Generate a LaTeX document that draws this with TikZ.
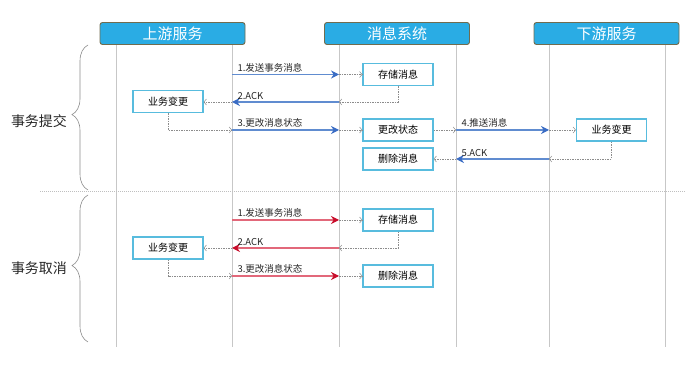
\documentclass[tikz,border=0pt]{standalone}
\usepackage{fontspec}
\setmainfont{Noto Sans CJK SC}
\usetikzlibrary{arrows.meta,decorations.pathreplacing}
\definecolor{headblue}{RGB}{42,172,228}
\definecolor{headedge}{RGB}{112,108,78}
\definecolor{boxblue}{RGB}{88,188,222}
\definecolor{msgblue}{RGB}{96,140,208}
\definecolor{tipblue}{RGB}{58,108,196}
\definecolor{msgred}{RGB}{226,104,122}
\definecolor{tipred}{RGB}{200,12,42}
\tikzset{
  head/.style={draw=headedge,fill=headblue,line width=0.9pt,rounded corners=2.5pt,minimum width=145pt,minimum height=22pt,text=white,font=\fontsize{15}{15}\selectfont},
  act/.style={draw=boxblue,fill=white,line width=1.2pt,minimum width=70pt,minimum height=22pt,inner sep=0pt,font=\fontsize{10}{10}\selectfont},
  life/.style={draw=black!22,line width=0.6pt},
  gdash/.style={draw=black!45,line width=0.5pt,dash pattern=on 1.5pt off 1pt,-{Straight Barb[length=2.5pt,width=6pt]}},
  bmsg/.style={draw=msgblue,line width=1.1pt,-{Stealth[length=8pt,width=8pt,color=tipblue]}},
  rmsg/.style={draw=msgred,line width=1.1pt,-{Stealth[length=8pt,width=8pt,color=tipred]}},
  lab/.style={anchor=south west,inner sep=1pt,xshift=4pt,yshift=1pt,font=\fontsize{9.5}{9.5}\selectfont,text=black!85},
  side/.style={font=\fontsize{14}{14}\selectfont,text=black!85},
  brc/.style={draw=black!45,line width=0.6pt,decorate,decoration={brace,amplitude=16pt,aspect=0.52}},
}
\begin{document}
\begin{tikzpicture}[x=1pt,y=-1pt]
  \useasboundingbox (0,0) rectangle (697,371);
  % lifelines
  \foreach \x in {116,232,339,456,549,665}
    \draw[life] (\x,45) -- (\x,347);
  \draw[draw=black!25,line width=0.5pt,dash pattern=on 1pt off 1pt] (40,191) -- (685,191);
  % headers
  \node[head] (up) at (172.5,33.5) {上游服务};
  \node[head] (mq) at (397,33.5) {消息系统};
  \node[head] (down) at (606.5,33.5) {下游服务};
  % braces
  \draw[brc] (88,190) -- (88,45);
  \draw[brc] (88,342) -- (88,195);
  \node[side] (commit) at (39,121) {事务提交};
  \node[side] (cancel) at (39,268) {事务取消};
  % commit
  \node[act] (store1) at (398,74.5) {存储消息};
  \node[act] (biz1) at (168,101.5) {业务变更};
  \node[act] (chg) at (398,130) {更改状态};
  \node[act] (del1) at (398,159) {删除消息};
  \node[act] (biz2) at (611.5,130) {业务变更};
  \coordinate (m1a) at (232,74.5);  \coordinate (m1b) at (339,74.5);
  \coordinate (m2a) at (232,102);   \coordinate (m2b) at (339,102);
  \coordinate (m3a) at (232,130);   \coordinate (m3b) at (339,130);
  \coordinate (m4a) at (456,130);   \coordinate (m4b) at (549,130);
  \coordinate (m5a) at (456,159);   \coordinate (m5b) at (549,159);
  \draw[bmsg] (m1a) -- node[lab,pos=0,anchor=south west] {1.发送事务消息} (m1b);
  \draw[gdash] (m1b) -- (m1b -| store1.west);
  \draw[gdash] (store1.south) |- (m2b);
  \draw[bmsg] (m2b) -- (m2a) node[lab] {2.ACK};
  \draw[gdash] (m2a) -- (m2a -| biz1.east);
  \draw[gdash] (biz1.south) |- (m3a);
  \draw[bmsg] (m3a) -- node[lab,pos=0,anchor=south west] {3.更改消息状态} (m3b);
  \draw[gdash] (m3b) -- (m3b -| chg.west);
  \draw[gdash] (chg.east) -- (m4a);
  \draw[bmsg] (m4a) -- node[lab,pos=0,anchor=south west] {4.推送消息} (m4b);
  \draw[gdash] (m4b) -- (m4b -| biz2.west);
  \draw[gdash] (biz2.south) |- (m5b);
  \draw[bmsg] (m5b) -- (m5a) node[lab] {5.ACK};
  \draw[gdash] (m5a) -- (m5a -| del1.east);
  % cancel
  \node[act] (store2) at (398,220) {存储消息};
  \node[act] (biz3) at (168,248) {业务变更};
  \node[act] (del2) at (398,276) {删除消息};
  \coordinate (r1a) at (232,220);  \coordinate (r1b) at (339,220);
  \coordinate (r2a) at (232,248);  \coordinate (r2b) at (339,248);
  \coordinate (r3a) at (232,276);  \coordinate (r3b) at (339,276);
  \draw[rmsg] (r1a) -- node[lab,pos=0,anchor=south west] {1.发送事务消息} (r1b);
  \draw[gdash] (r1b) -- (r1b -| store2.west);
  \draw[gdash] (store2.south) |- (r2b);
  \draw[rmsg] (r2b) -- (r2a) node[lab] {2.ACK};
  \draw[gdash] (r2a) -- (r2a -| biz3.east);
  \draw[gdash] (biz3.south) |- (r3a);
  \draw[rmsg] (r3a) -- node[lab,pos=0,anchor=south west] {3.更改消息状态} (r3b);
  \draw[gdash] (r3b) -- (r3b -| del2.west);
\end{tikzpicture}
\end{document}
